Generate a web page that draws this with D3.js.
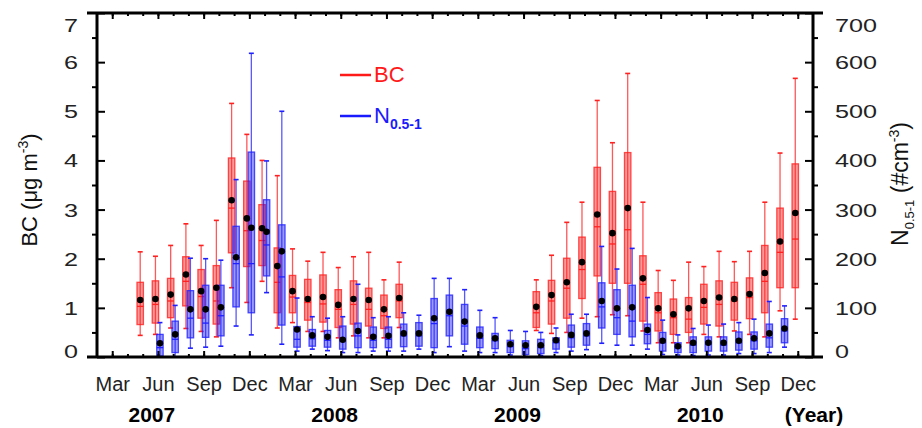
<!DOCTYPE html>
<html>
<head>
<meta charset="utf-8">
<script src="https://d3js.org/d3.v7.min.js"></script>
<style>
body { margin: 0; background: #fff; }
text { font-family: "Liberation Sans", Arial, Helvetica, sans-serif; }
</style>
</head>
<body>
<svg id="chart" width="922" height="428"></svg>
<script>
// BC (ug m-3), monthly box statistics
var bcMonths = ["2007-05","2007-06","2007-07","2007-08","2007-09","2007-10","2007-11","2007-12",
  "2008-01","2008-02","2008-03","2008-04","2008-05","2008-06","2008-07","2008-08","2008-09","2008-10",
  "2009-07","2009-08","2009-09","2009-10","2009-11","2009-12",
  "2010-01","2010-02","2010-03","2010-04","2010-05","2010-06","2010-07","2010-08","2010-09","2010-10","2010-11","2010-12"]
var bcMax  = [2.14,2.05,2.27,2.71,2.27,2.78,5.16,4.53,4.00,3.69,2.20,1.95,2.13,1.82,2.04,2.13,1.57,1.93,
  1.57,2.07,2.74,3.15,5.22,4.36,5.77,3.15,1.76,1.56,1.93,1.84,2.15,1.94,2.15,3.15,4.15,5.67]
var bcQ3   = [1.52,1.55,1.60,2.04,1.78,1.86,4.05,3.58,3.10,2.22,1.66,1.58,1.67,1.37,1.55,1.40,1.26,1.48,
  1.33,1.56,2.01,2.44,3.86,3.37,4.16,2.06,1.31,1.18,1.21,1.48,1.55,1.52,1.61,2.27,3.03,3.93]
var bcMed  = [1.03,1.07,1.14,1.54,1.23,1.14,3.03,2.57,2.37,1.52,1.22,1.11,1.08,0.97,1.07,0.97,0.84,1.14,
  0.90,1.14,1.40,1.78,2.65,2.30,2.59,1.48,0.90,0.80,0.77,1.01,1.07,1.14,1.21,1.54,2.13,2.40]
var bcQ1   = [0.66,0.69,0.80,1.04,0.79,0.67,2.12,1.84,1.86,0.90,0.90,0.75,0.71,0.60,0.67,0.63,0.58,0.80,
  0.60,0.67,0.79,1.19,1.65,1.50,1.50,0.73,0.53,0.46,0.50,0.67,0.63,0.75,0.78,0.90,1.41,1.41]
var bcMin  = [0.44,0.46,0.59,0.58,0.52,0.41,1.41,1.11,1.54,0.59,0.70,0.52,0.52,0.39,0.43,0.39,0.39,0.60,
  0.54,0.48,0.50,0.79,0.82,0.86,0.84,0.53,0.29,0.29,0.29,0.46,0.41,0.53,0.46,0.41,0.94,0.77]
var bcMean = [1.16,1.18,1.27,1.68,1.34,1.41,3.19,2.82,2.62,1.85,1.34,1.18,1.22,1.06,1.18,1.16,0.97,1.20,
  1.02,1.26,1.52,1.93,2.90,2.52,3.03,1.60,0.99,0.87,0.99,1.14,1.21,1.18,1.28,1.71,2.35,2.93]

// N0.5-1 (# cm-3)
var nMonths = ["2007-06","2007-07","2007-08","2007-09","2007-10","2007-11","2007-12",
  "2008-01","2008-02","2008-03","2008-04","2008-05","2008-06","2008-07","2008-08","2008-09","2008-10","2008-11","2008-12",
  "2009-01","2009-02","2009-03","2009-04","2009-05","2009-06","2009-07","2009-08","2009-09","2009-10","2009-11","2009-12",
  "2010-01","2010-02","2010-03","2010-04","2010-05","2010-06","2010-07","2010-08","2010-09","2010-10","2010-11"]
var nMax  = [70,105,201,200,197,361,618, 399,500,120,82,79,82,148,80,82,90,85,160,
  160,137,95,80,54,52,50,59,87,87,225,179, 221,121,75,45,58,65,67,70,77,113,104]
var nQ3   = [46,73,135,146,146,266,417, 320,269,62,56,54,63,69,61,61,67,70,119,
  126,107,61,48,34,33,36,39,65,68,151,137, 146,67,50,29,41,41,41,51,51,67,78]
var nMed  = [19,36,79,69,84,190,190, 228,163,36,37,34,33,43,34,36,43,43,68,
  84,63,38,33,21,17,19,29,39,43,102,80, 73,46,29,19,24,26,24,29,33,39,53]
var nQ1   = [2,9,39,40,43,102,90, 165,65,20,22,20,16,19,19,19,21,22,19,
  43,26,19,17,9,5,7,16,20,24,59,46, 41,27,12,9,9,12,12,14,16,20,29]
var nMin  = [0,0,18,20,22,63,45, 131,26,12,16,13,9,9,12,12,12,16,9,
  21,12,9,9,4,1,3,9,12,15,28,24, 24,16,5,4,3,4,4,7,7,9,20]
var nMean = [28,46,97,97,101,203,263, 255,215,56,44,41,35,53,41,43,48,48,79,
  92,72,44,38,26,24,24,34,45,48,114,99, 101,55,33,22,29,29,29,33,38,48,58]

var quarterLabels = ["Mar", "Jun", "Sep", "Dec"]
var yearLabels = ["2007", "2008", "2009", "2010"]
var bcTicks = [0, 1, 2, 3, 4, 5, 6, 7]
var nTicks = [0, 100, 200, 300, 400, 500, 600, 700]

var L = 97, R = 813, T = 13, B = 357
var red = "#ff2020", blue = "#2020ff"

// month index, Feb 2007 = 0 ... Jan 2011 = 47
function mi(s) { var p = s.split("-"); return (+p[0] - 2007) * 12 + (+p[1] - 2) }

var x = d3.scaleLinear().domain([0, 47]).range([L, R])
var yBC = d3.scaleLinear().domain([0, 7]).range([B, T])
var yN = d3.scaleLinear().domain([0, 700]).range([B, T])

var svg = d3.select("#chart")

function boxes(cls, months, mn, q1, md, q3, mx, y, off, col) {
  var g = svg.append("g").attr("class", cls)
  .selectAll("g")
  .data(months)
  .enter().append("g")
  .attr("transform", function (d) { return "translate(" + (x(mi(d)) + off) + ",0)" })

  g.append("line")
  .attr("y1", function (d, i) { return y(mn[i]) })
  .attr("y2", function (d, i) { return y(mx[i]) })
  .attr("stroke", col).attr("stroke-width", 1.3).attr("stroke-opacity", 0.75)

  g.append("line")
  .attr("x1", -2.5).attr("x2", 2.5)
  .attr("y1", function (d, i) { return y(mx[i]) })
  .attr("y2", function (d, i) { return y(mx[i]) })
  .attr("stroke", col).attr("stroke-width", 1.6)

  g.append("line")
  .attr("x1", -2.5).attr("x2", 2.5)
  .attr("y1", function (d, i) { return y(mn[i]) })
  .attr("y2", function (d, i) { return y(mn[i]) })
  .attr("stroke", col).attr("stroke-width", 1.6)

  g.append("rect")
  .attr("x", -3.2).attr("width", 6.4)
  .attr("y", function (d, i) { return y(q3[i]) })
  .attr("height", function (d, i) { return y(q1[i]) - y(q3[i]) })
  .attr("fill", col).attr("fill-opacity", 0.45)
  .attr("stroke", col).attr("stroke-width", 1.3).attr("stroke-opacity", 0.8)

  g.append("line")
  .attr("x1", -3.2).attr("x2", 3.2)
  .attr("y1", function (d, i) { return y(md[i]) })
  .attr("y2", function (d, i) { return y(md[i]) })
  .attr("stroke", col).attr("stroke-width", 1.3)
}

function means(months, vals, y, off) {
  svg.append("g")
  .selectAll("circle")
  .data(months)
  .enter().append("circle")
  .attr("cx", function (d) { return x(mi(d)) + off })
  .attr("cy", function (d, i) { return y(vals[i]) })
  .attr("r", 3.3)
  .attr("fill", "#000")
}

boxes("bc", bcMonths, bcMin, bcQ1, bcMed, bcQ3, bcMax, yBC, -2.5, red)
boxes("n", nMonths, nMin, nQ1, nMed, nQ3, nMax, yN, 2, blue)
means(bcMonths, bcMean, yBC, -2.5)
means(nMonths, nMean, yN, 2)

// axes
var quarters = d3.range(1, 47, 3)
var allMonths = d3.range(1, 47)

function clean(sel) { sel.select(".domain").remove(); sel.selectAll(".tick line").attr("stroke-width", 2) }

svg.append("g").attr("transform", "translate(0," + B + ")")
.call(d3.axisBottom(x).tickValues(allMonths).tickSizeInner(-3).tickFormat(""))
.call(clean)

svg.append("g").attr("transform", "translate(0," + B + ")")
.call(d3.axisBottom(x).tickValues(quarters).tickSizeInner(-6).tickPadding(20)
  .tickFormat(function (d) { return quarterLabels[((d - 1) / 3) % 4] }))
.call(clean)
.selectAll("text").attr("font-size", 20).attr("fill", "#222")

svg.append("g").attr("transform", "translate(0," + T + ")")
.call(d3.axisTop(x).tickValues(allMonths).tickSizeInner(-3).tickFormat(""))
.call(clean)

svg.append("g").attr("transform", "translate(0," + T + ")")
.call(d3.axisTop(x).tickValues(quarters).tickSizeInner(-6).tickFormat(""))
.call(clean)

svg.append("g").attr("transform", "translate(" + L + ",0)")
.call(d3.axisLeft(yBC).tickValues(d3.range(0.5, 7, 1)).tickSizeInner(5).tickFormat(""))
.call(clean)

svg.append("g").attr("transform", "translate(" + L + ",0)")
.call(d3.axisLeft(yBC).tickValues(bcTicks).tickSizeInner(-8).tickPadding(19).tickFormat(d3.format("d")))
.call(clean)
.selectAll("text")
.attr("font-size", 19).attr("fill", "#222")
.attr("dy", function (d) { return d === 7 ? "0.95em" : d === 0 ? "0.05em" : "0.34em" })
.attr("textLength", function (d) { return String(d).length * 14 })
.attr("lengthAdjust", "spacingAndGlyphs")

svg.append("g").attr("transform", "translate(" + R + ",0)")
.call(d3.axisRight(yN).tickValues(d3.range(50, 700, 100)).tickSizeInner(5).tickFormat(""))
.call(clean)

svg.append("g").attr("transform", "translate(" + R + ",0)")
.call(d3.axisRight(yN).tickValues(nTicks).tickSizeInner(-8).tickPadding(22).tickFormat(d3.format("d")))
.call(clean)
.selectAll("text")
.attr("font-size", 19).attr("fill", "#222")
.attr("dy", function (d) { return d === 700 ? "0.95em" : d === 0 ? "0.05em" : "0.34em" })
.attr("textLength", function (d) { return String(d).length * 14 })
.attr("lengthAdjust", "spacingAndGlyphs")

// frame
var frame = svg.append("g").attr("stroke", "#000").attr("stroke-width", 3)
frame.append("line").attr("x1", L).attr("x2", L).attr("y1", T).attr("y2", B)
frame.append("line").attr("x1", R).attr("x2", R).attr("y1", T).attr("y2", B)
frame.append("line").attr("x1", L - 10).attr("x2", R + 10).attr("y1", T).attr("y2", T)
frame.append("line").attr("x1", L - 10).attr("x2", R + 10).attr("y1", B).attr("y2", B)

// year labels
svg.append("g")
.selectAll("text")
.data(yearLabels)
.enter().append("text")
.attr("x", function (d) { return x(mi(d + "-06") - 0.4) })
.attr("y", 422)
.attr("text-anchor", "middle")
.attr("font-size", 21).attr("font-weight", "bold")
.text(function (d) { return d })

svg.append("text")
.attr("x", R + 1).attr("y", 422)
.attr("text-anchor", "middle")
.attr("font-size", 21).attr("font-weight", "bold")
.text("(Year)")

// axis titles
var lt = svg.append("text")
.attr("transform", "translate(37,190) rotate(-90)")
.attr("text-anchor", "middle")
.attr("font-size", 22).attr("fill", "#111")
lt.append("tspan").text("BC (\u03bcg m")
lt.append("tspan").attr("font-size", 14).attr("dy", -9).text("-3")
lt.append("tspan").attr("dy", 9).text(")")

var rt = svg.append("text")
.attr("transform", "translate(908,184) rotate(-90)")
.attr("text-anchor", "middle")
.attr("font-size", 23).attr("fill", "#111")
rt.append("tspan").text("N")
rt.append("tspan").attr("font-size", 13).attr("dy", 6).text("0.5-1")
rt.append("tspan").attr("dy", -6).text(" (#cm")
rt.append("tspan").attr("font-size", 14).attr("dy", -9).text("-3")
rt.append("tspan").attr("dy", 9).text(")")

// legend
var leg = svg.append("g")
leg.append("line").attr("x1", 340).attr("x2", 371).attr("y1", 75).attr("y2", 75)
.attr("stroke", "#ff1a1a").attr("stroke-width", 2.5)
leg.append("text").attr("x", 374).attr("y", 82).attr("font-size", 22).attr("fill", "#ff1a1a").text("BC")
leg.append("line").attr("x1", 340).attr("x2", 371).attr("y1", 116).attr("y2", 116)
.attr("stroke", "#1a1aff").attr("stroke-width", 2.5)
var nl = leg.append("text").attr("x", 374).attr("y", 123).attr("font-size", 22).attr("fill", "#1a1aff")
nl.append("tspan").text("N")
nl.append("tspan").attr("font-size", 14).attr("font-weight", "bold").attr("dy", 6).text("0.5-1")
</script>
</body>
</html>
